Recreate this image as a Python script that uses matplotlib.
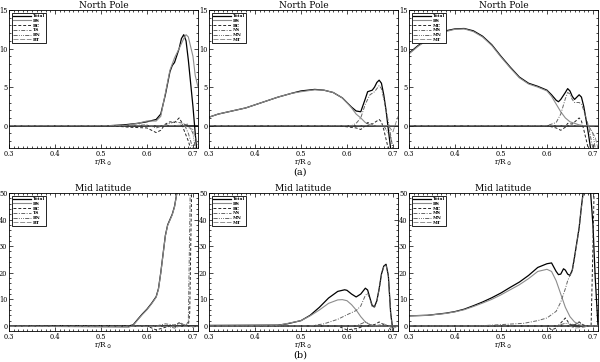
import matplotlib
matplotlib.use("Agg")
import matplotlib.pyplot as plt
from matplotlib.ticker import MultipleLocator

plt.rcParams['font.family'] = ['DejaVu Serif']

# ---------------- data ----------------
titles_top = "North Pole"
titles_bot = "Mid latitude"
legend_labels = [
    ["Total", "BS", "BC", "TS", "BN", "BT"],
    ["Total", "BS", "BC", "NS", "MN", "MT"],
    ["Total", "BS", "MC", "MS", "MN", "MT"],
]
xticks = [0.3, 0.4, 0.5, 0.6, 0.7]
xtick_labels = ["0.3", "0.4", "0.5", "0.6", "0.7"]
yticks_top = [0, 5, 10, 15]
yticks_bot = [0, 10, 20, 30, 40, 50]

# Panel A1 (North Pole, left)
a1_total_x = [0.30, 0.52, 0.55, 0.58, 0.60, 0.62, 0.63, 0.64, 0.65, 0.655, 0.66, 0.67, 0.675, 0.68, 0.685, 0.69, 0.695, 0.70, 0.705, 0.708]
a1_total_y = [0.0, 0.0, 0.1, 0.3, 0.5, 0.8, 1.5, 4.0, 7.0, 7.8, 8.2, 10.0, 11.3, 11.8, 11.0, 8.5, 5.5, 2.5, -1.0, -3.0]
a1_c1_x = [0.30, 0.55, 0.58, 0.60, 0.62, 0.63, 0.64, 0.65, 0.66, 0.67, 0.68, 0.685, 0.69, 0.70, 0.705, 0.711]
a1_c1_y = [0.0, 0.0, 0.3, 0.6, 0.6, 1.2, 4.2, 7.2, 8.8, 10.0, 11.3, 11.8, 11.5, 9.0, 6.5, 5.0]
a1_c2_x = [0.30, 0.52, 0.56, 0.60, 0.62, 0.63, 0.64, 0.65, 0.66, 0.67, 0.675, 0.68, 0.69, 0.695]
a1_c2_y = [0.0, 0.0, -0.2, -0.3, -0.9, -0.6, 0.2, 0.5, 0.4, 1.0, 0.5, -0.5, -2.0, -3.0]
a1_c3_x = [0.30, 0.55, 0.60, 0.62, 0.64, 0.66, 0.68, 0.69, 0.70]
a1_c3_y = [0.0, 0.0, 0.1, -0.3, 0.1, 0.5, 0.3, -1.0, -3.0]
a1_c4_x = [0.30, 0.66, 0.69, 0.70, 0.705]
a1_c4_y = [0.0, 0.0, 0.2, -1.0, -3.0]
a1_c5_x = [0.30, 0.68, 0.70, 0.711]
a1_c5_y = [0.0, 0.0, -0.5, -2.5]

# Panel A2 (North Pole, middle)
a2_total_x = [0.30, 0.32, 0.35, 0.38, 0.40, 0.43, 0.45, 0.48, 0.50, 0.53, 0.55, 0.57, 0.59, 0.60, 0.61, 0.62, 0.63, 0.64, 0.645, 0.65, 0.655, 0.66, 0.665, 0.67, 0.675, 0.68, 0.685, 0.69, 0.695]
a2_total_y = [1.1, 1.5, 1.9, 2.3, 2.7, 3.3, 3.7, 4.2, 4.5, 4.7, 4.6, 4.3, 3.6, 3.0, 2.4, 1.9, 1.8, 3.5, 4.4, 4.5, 4.6, 5.0, 5.6, 5.9, 5.5, 4.0, 2.0, -0.5, -3.0]
a2_c1_x = [0.30, 0.32, 0.35, 0.38, 0.40, 0.43, 0.45, 0.48, 0.50, 0.53, 0.55, 0.57, 0.59, 0.60, 0.61, 0.62, 0.63, 0.64, 0.65, 0.66, 0.711]
a2_c1_y = [1.1, 1.5, 1.9, 2.3, 2.7, 3.3, 3.7, 4.2, 4.4, 4.65, 4.6, 4.3, 3.6, 3.0, 2.3, 1.5, 1.0, 0.4, 0.1, 0.0, 0.0]
a2_c2_x = [0.30, 0.58, 0.62, 0.63, 0.64, 0.645, 0.655, 0.67, 0.675, 0.68, 0.69]
a2_c2_y = [0.0, 0.0, -0.3, -0.5, 0.0, 0.4, 0.2, 0.8, 0.5, -0.5, -3.0]
a2_c3_x = [0.30, 0.61, 0.62, 0.63, 0.64, 0.65, 0.66, 0.67, 0.675, 0.68, 0.69, 0.70]
a2_c3_y = [0.0, 0.0, 0.3, 1.0, 2.8, 4.0, 4.4, 5.2, 4.8, 3.5, 0.5, -3.0]
a2_c4_x = [0.30, 0.68, 0.695, 0.70]
a2_c4_y = [0.0, 0.0, -1.5, -3.0]
a2_c5_x = [0.30, 0.69, 0.70, 0.711]
a2_c5_y = [0.0, 0.0, -0.8, 1.2]

# Panel A3 (North Pole, right)
a3_total_x = [0.30, 0.32, 0.34, 0.36, 0.38, 0.40, 0.42, 0.44, 0.46, 0.48, 0.50, 0.52, 0.54, 0.56, 0.58, 0.60, 0.61, 0.62, 0.625, 0.63, 0.64, 0.645, 0.65, 0.655, 0.66, 0.665, 0.67, 0.675, 0.68, 0.685, 0.69, 0.695]
a3_total_y = [9.4, 10.4, 11.2, 11.8, 12.3, 12.55, 12.6, 12.3, 11.6, 10.5, 9.0, 7.6, 6.3, 5.5, 5.1, 4.6, 4.0, 3.3, 3.1, 3.4, 4.3, 4.8, 4.5, 3.8, 3.4, 3.7, 4.0, 3.7, 2.5, 0.8, -1.0, -3.0]
a3_c1_x = [0.30, 0.32, 0.34, 0.36, 0.38, 0.40, 0.42, 0.44, 0.46, 0.48, 0.50, 0.52, 0.54, 0.56, 0.58, 0.60, 0.61, 0.62, 0.63, 0.64, 0.65, 0.66, 0.67, 0.68, 0.711]
a3_c1_y = [9.3, 10.3, 11.1, 11.7, 12.2, 12.5, 12.55, 12.2, 11.5, 10.4, 8.9, 7.5, 6.2, 5.4, 5.0, 4.5, 3.8, 2.8, 1.8, 1.0, 0.5, 0.3, 0.1, 0.0, 0.0]
a3_c2_x = [0.30, 0.60, 0.62, 0.63, 0.64, 0.645, 0.655, 0.67, 0.675, 0.68, 0.69]
a3_c2_y = [0.0, 0.0, -0.3, -0.6, -0.2, 0.3, 0.2, 1.0, 0.6, -0.5, -3.0]
a3_c3_x = [0.30, 0.60, 0.62, 0.63, 0.64, 0.645, 0.65, 0.655, 0.66, 0.67, 0.675, 0.68, 0.69, 0.70]
a3_c3_y = [0.0, 0.0, 0.4, 1.5, 3.5, 4.3, 4.1, 3.4, 3.0, 3.0, 2.8, 2.0, 0.0, -3.0]
a3_c4_x = [0.30, 0.69, 0.70, 0.705]
a3_c4_y = [0.0, 0.0, -1.0, -3.0]
a3_c5_x = [0.30, 0.69, 0.705, 0.711]
a3_c5_y = [0.0, 0.0, -1.5, -3.0]

# Panel B1 (Mid latitude, left)
b1_total_x = [0.30, 0.56, 0.57, 0.58, 0.59, 0.60, 0.61, 0.62, 0.625, 0.63, 0.635, 0.64, 0.645, 0.65, 0.655, 0.66, 0.665, 0.67]
b1_total_y = [0.0, 0.0, 0.4, 2.5, 4.5, 6.3, 8.5, 11.0, 14.0, 20.0, 27.0, 34.0, 38.0, 40.0, 42.0, 45.0, 50.0, 56.0]
b1_c1_x = [0.30, 0.56, 0.57, 0.58, 0.59, 0.60, 0.61, 0.62, 0.625, 0.63, 0.635, 0.64, 0.645, 0.65, 0.655, 0.66, 0.665, 0.67]
b1_c1_y = [0.0, -0.5, 0.2, 2.3, 4.3, 6.1, 8.3, 10.8, 13.8, 19.8, 26.8, 33.8, 37.8, 39.8, 41.8, 44.8, 49.8, 55.8]
b1_c2_x = [0.30, 0.60, 0.62, 0.64, 0.66, 0.67, 0.68, 0.69, 0.693, 0.697, 0.70]
b1_c2_y = [0.0, 0.0, -1.5, -0.5, 0.3, 1.2, 0.0, 0.0, 5.0, 50.0, 55.0]
b1_c3_x = [0.30, 0.62, 0.64, 0.66, 0.675, 0.685, 0.690, 0.694, 0.696]
b1_c3_y = [0.0, 0.0, 0.8, 0.3, 1.0, 0.0, 2.0, 50.0, 55.0]
b1_c4_x = [0.30, 0.64, 0.66, 0.68, 0.70, 0.711]
b1_c4_y = [0.0, 0.0, -0.8, 0.5, -0.5, 0.0]
b1_c5_x = [0.30, 0.711]
b1_c5_y = [0.0, 0.0]

# Panel B2 (Mid latitude, middle)
b2_total_x = [0.30, 0.45, 0.47, 0.50, 0.52, 0.54, 0.56, 0.58, 0.595, 0.60, 0.61, 0.62, 0.63, 0.64, 0.645, 0.65, 0.655, 0.66, 0.665, 0.67, 0.675, 0.68, 0.685, 0.69, 0.695, 0.70]
b2_total_y = [0.2, 0.3, 0.8, 2.0, 4.0, 7.0, 10.5, 13.0, 13.6, 13.4, 12.0, 10.9, 12.0, 14.2, 13.5, 10.5, 7.6, 7.3, 9.5, 14.0, 19.5, 22.5, 23.2, 19.0, 5.0, -2.0]
b2_c1_x = [0.30, 0.45, 0.50, 0.52, 0.54, 0.56, 0.58, 0.59, 0.60, 0.61, 0.62, 0.63, 0.64, 0.65, 0.66, 0.711]
b2_c1_y = [0.0, 0.2, 2.0, 3.8, 6.0, 8.5, 9.8, 9.9, 9.5, 8.0, 6.0, 3.5, 1.5, 0.5, 0.0, 0.0]
b2_c2_x = [0.30, 0.58, 0.60, 0.62, 0.64, 0.66, 0.67, 0.68, 0.69, 0.695, 0.70]
b2_c2_y = [0.0, 0.0, -1.5, -1.0, 0.0, 0.5, 1.5, 0.5, 0.0, -1.5, -2.0]
b2_c3_x = [0.30, 0.52, 0.55, 0.58, 0.60, 0.62, 0.63, 0.64, 0.645, 0.65, 0.655, 0.66, 0.665, 0.67, 0.675, 0.68, 0.685, 0.69, 0.695, 0.70]
b2_c3_y = [0.0, 0.0, 0.8, 2.5, 4.2, 5.8, 7.5, 11.5, 12.3, 10.0, 7.2, 7.0, 9.2, 13.7, 19.2, 22.2, 23.0, 18.7, 4.8, -2.0]
b2_c4_x = [0.30, 0.62, 0.64, 0.65, 0.66, 0.711]
b2_c4_y = [0.0, 0.0, 1.5, 0.5, 0.0, 0.0]
b2_c5_x = [0.30, 0.66, 0.68, 0.69, 0.70, 0.711]
b2_c5_y = [0.0, 0.0, 0.8, 0.0, -1.0, 0.0]

# Panel B3 (Mid latitude, right)
b3_total_x = [0.30, 0.34, 0.38, 0.40, 0.42, 0.44, 0.46, 0.48, 0.50, 0.52, 0.54, 0.56, 0.58, 0.60, 0.61, 0.62, 0.625, 0.63, 0.636, 0.64, 0.645, 0.65, 0.655, 0.66, 0.67, 0.675, 0.68, 0.685, 0.69, 0.695, 0.70, 0.705, 0.711]
b3_total_y = [3.8, 4.0, 4.8, 5.4, 6.3, 7.6, 9.0, 10.6, 12.4, 14.5, 16.5, 19.0, 22.0, 23.4, 23.7, 20.5, 19.3, 19.5, 21.5, 21.0, 19.5, 19.0, 21.0, 26.0, 37.0, 45.0, 52.0, 56.0, 55.0, 50.0, 38.0, 18.0, 0.0]
b3_c1_x = [0.30, 0.34, 0.38, 0.40, 0.42, 0.44, 0.46, 0.48, 0.50, 0.52, 0.54, 0.56, 0.58, 0.60, 0.61, 0.62, 0.63, 0.64, 0.65, 0.66, 0.67, 0.68, 0.711]
b3_c1_y = [3.8, 4.0, 4.7, 5.3, 6.1, 7.3, 8.6, 10.0, 11.7, 13.6, 15.5, 17.8, 20.5, 21.3, 20.5, 17.0, 12.0, 7.0, 3.5, 1.5, 0.5, 0.0, 0.0]
b3_c2_x = [0.30, 0.60, 0.61, 0.62, 0.64, 0.65, 0.66, 0.67, 0.68, 0.69, 0.696, 0.700, 0.703]
b3_c2_y = [0.0, 0.0, -1.5, -0.8, 3.0, 0.5, 0.3, 1.5, 0.3, 0.0, 0.0, 30.0, 55.0]
b3_c3_x = [0.30, 0.45, 0.50, 0.55, 0.58, 0.60, 0.62, 0.63, 0.64, 0.645, 0.65, 0.655, 0.66, 0.67, 0.675, 0.68]
b3_c3_y = [0.0, 0.0, 0.5, 1.0, 2.0, 3.0, 5.5, 9.0, 14.0, 17.0, 19.0, 20.5, 25.5, 36.5, 44.5, 51.5]
b3_c4_x = [0.30, 0.62, 0.64, 0.66, 0.67, 0.68, 0.711]
b3_c4_y = [0.0, 0.0, 1.0, 0.5, 1.5, 0.0, 0.0]
b3_c5_x = [0.30, 0.65, 0.66, 0.68, 0.69, 0.711]
b3_c5_y = [0.0, 0.0, -0.8, -0.5, 0.0, 0.0]

panels_top = [
    [(a1_total_x, a1_total_y), (a1_c1_x, a1_c1_y), (a1_c2_x, a1_c2_y), (a1_c3_x, a1_c3_y), (a1_c4_x, a1_c4_y), (a1_c5_x, a1_c5_y)],
    [(a2_total_x, a2_total_y), (a2_c1_x, a2_c1_y), (a2_c2_x, a2_c2_y), (a2_c3_x, a2_c3_y), (a2_c4_x, a2_c4_y), (a2_c5_x, a2_c5_y)],
    [(a3_total_x, a3_total_y), (a3_c1_x, a3_c1_y), (a3_c2_x, a3_c2_y), (a3_c3_x, a3_c3_y), (a3_c4_x, a3_c4_y), (a3_c5_x, a3_c5_y)],
]
panels_bot = [
    [(b1_total_x, b1_total_y), (b1_c1_x, b1_c1_y), (b1_c2_x, b1_c2_y), (b1_c3_x, b1_c3_y), (b1_c4_x, b1_c4_y), (b1_c5_x, b1_c5_y)],
    [(b2_total_x, b2_total_y), (b2_c1_x, b2_c1_y), (b2_c2_x, b2_c2_y), (b2_c3_x, b2_c3_y), (b2_c4_x, b2_c4_y), (b2_c5_x, b2_c5_y)],
    [(b3_total_x, b3_total_y), (b3_c1_x, b3_c1_y), (b3_c2_x, b3_c2_y), (b3_c3_x, b3_c3_y), (b3_c4_x, b3_c4_y), (b3_c5_x, b3_c5_y)],
]

styles = [
    dict(color='black', ls='-', lw=0.9),
    dict(color='0.55', ls='-', lw=0.8),
    dict(color='0.15', ls=(0, (3, 2)), lw=0.7),
    dict(color='0.4', ls=(0, (4, 1.5, 1, 1.5)), lw=0.7),
    dict(color='0.3', ls=(0, (5, 1.5, 1, 1.5, 1, 1.5, 1, 1.5)), lw=0.6),
    dict(color='0.5', ls=(0, (6, 2)), lw=0.6),
]

fig = plt.figure(figsize=(6.0, 3.62), dpi=100)

lefts = [9 / 600, 209 / 600, 409 / 600]
width = 189 / 600
height = 138 / 362
bottoms = [1 - 148 / 362, 1 - 331 / 362]


def style_axes(ax, ylim, yticks, yminor, title):
    ax.set_xlim(0.3, 0.711)
    ax.set_ylim(*ylim)
    ax.set_xticks(xticks)
    ax.set_xticklabels(xtick_labels)
    ax.set_yticks(yticks)
    ax.xaxis.set_minor_locator(MultipleLocator(0.01))
    ax.yaxis.set_minor_locator(MultipleLocator(yminor))
    ax.tick_params(which='both', direction='in', top=True, right=True, labelsize=4.8, pad=1.2, width=0.5)
    ax.tick_params(which='major', length=3)
    ax.tick_params(which='minor', length=1.5)
    for s in ax.spines.values():
        s.set_linewidth(0.6)
    ax.set_title(title, fontsize=6.5, pad=1.5)
    ax.set_xlabel(r"r/R$_\odot$", fontsize=5.2, labelpad=0.2)


for row, (panels, bottom, ylim, yticks, yminor, title) in enumerate([
        (panels_top, bottoms[0], (-2.9, 15), yticks_top, 1, titles_top),
        (panels_bot, bottoms[1], (-1.9, 50), yticks_bot, 2, titles_bot)]):
    for col in range(3):
        ax = fig.add_axes([lefts[col], bottom, width, height])
        ax.axhline(0, color='black', lw=1.1, zorder=1)
        handles = []
        for (xs, ys), st, lab in zip(panels[col], styles, legend_labels[col]):
            h, = ax.plot(xs, ys, label=lab, **st)
            handles.append(h)
        style_axes(ax, ylim, yticks, yminor, title)
        leg = ax.legend(handles=handles, loc='upper left', fontsize=3.2, frameon=True,
                        fancybox=False, edgecolor='black', framealpha=1,
                        handlelength=4, handletextpad=0.5, labelspacing=0.15,
                        borderpad=0.3, markerfirst=True, borderaxespad=0.6)
        leg.get_frame().set_linewidth(0.6)
        for t in leg.get_texts():
            t.set_fontweight('bold')

fig.text(0.5, 1 - 172 / 362, "(a)", ha='center', va='center', fontsize=7)
fig.text(0.5, 1 - 355 / 362, "(b)", ha='center', va='center', fontsize=7)

fig.savefig("out.png", dpi=100)
